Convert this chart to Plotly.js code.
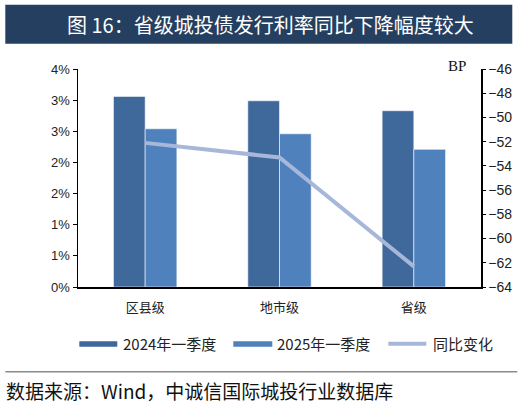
<!DOCTYPE html>
<html>
<head>
<meta charset="utf-8">
<script src="https://cdn.plot.ly/plotly-3.0.1.min.js"></script>
<style>
  html, body { margin: 0; padding: 0; background: #fff; }
  #chart { width: 529px; height: 407px; }
</style>
</head>
<body>
<div id="chart"></div>
<script>
// data
const categories = ['区县级', '地市级', '省级'];
const rate2024 = [3.06, 2.99, 2.83];   // %
const rate2025 = [2.54, 2.46, 2.21];   // %
const yoyChange = [-52.1, -53.3, -62.3]; // BP
const leftTickVals = [0, 0.5, 1, 1.5, 2, 2.5, 3, 3.5];
const leftTickText = ['0%', '1%', '1%', '2%', '2%', '3%', '3%', '4%'];
const seriesNames = ['2024年一季度', '2025年一季度', '同比变化'];

const darkBlue = '#40699B';
const midBlue = '#4F81BD';
const lineBlue = '#A7B7DA';
const cjk = '"Noto Sans CJK SC", "Noto Sans", sans-serif';

const M = { l: 77.7, r: 48.3, t: 69.3, b: 119.7 };
const W = 529, H = 407;
const plotW = W - M.l - M.r, plotH = H - M.t - M.b;
// pixel -> paper coords (paper spans the plot area)
const px = v => (v - M.l) / plotW;
const py = v => (H - M.b - v) / plotH;

const traces = [
  {
    type: 'bar', x: categories, y: rate2024, name: seriesNames[0],
    marker: { color: darkBlue, line: { color: 'rgba(255,255,255,0.7)', width: 0.8 } },
    hoverinfo: 'skip'
  },
  {
    type: 'bar', x: categories, y: rate2025, name: seriesNames[1],
    marker: { color: midBlue, line: { color: 'rgba(255,255,255,0.7)', width: 0.8 } },
    hoverinfo: 'skip'
  },
  {
    type: 'scatter', mode: 'lines', x: categories, y: yoyChange, yaxis: 'y2',
    name: seriesNames[2], line: { color: lineBlue, width: 4 },
    hoverinfo: 'skip'
  }
];

// hand-drawn legend (wide swatches like the original)
const legendY = 344;

const shapes = [
  // title band
  { type: 'rect', xref: 'paper', yref: 'paper', x0: px(5), x1: px(512), y0: py(44), y1: py(5),
    fillcolor: '#243F60', line: { width: 0 }, layer: 'below' },
  // footer rule
  { type: 'line', xref: 'paper', yref: 'paper', x0: px(5), x1: px(517), y0: py(372), y1: py(372),
    line: { color: '#8c8c8c', width: 1.5 } },
  // legend swatches
  { type: 'rect', xref: 'paper', yref: 'paper', x0: px(79), x1: px(117), y0: py(347), y1: py(341.5),
    fillcolor: darkBlue, line: { width: 0 } },
  { type: 'rect', xref: 'paper', yref: 'paper', x0: px(233), x1: px(272), y0: py(347), y1: py(341.5),
    fillcolor: midBlue, line: { width: 0 } },
  { type: 'line', xref: 'paper', yref: 'paper', x0: px(388), x1: px(426), y0: py(legendY), y1: py(legendY),
    line: { color: lineBlue, width: 4 } }
];

const annotations = [
  { text: '图 16：省级城投债发行利率同比下降幅度较大', xref: 'paper', yref: 'paper',
    x: px(270), y: py(24.5), xanchor: 'center', yanchor: 'middle', showarrow: false,
    font: { family: cjk, size: 20, color: '#ffffff' } },
  { text: 'BP', xref: 'paper', yref: 'paper', x: px(457), y: py(66), xanchor: 'center', yanchor: 'middle',
    showarrow: false, font: { family: '"Liberation Serif", "DejaVu Serif", serif', size: 15, color: '#111' } },
  { text: seriesNames[0], xref: 'paper', yref: 'paper', x: px(121), y: py(legendY), xanchor: 'left',
    yanchor: 'middle', showarrow: false, font: { family: cjk, size: 15, color: '#222' } },
  { text: seriesNames[1], xref: 'paper', yref: 'paper', x: px(275), y: py(legendY), xanchor: 'left',
    yanchor: 'middle', showarrow: false, font: { family: cjk, size: 15, color: '#222' } },
  { text: seriesNames[2], xref: 'paper', yref: 'paper', x: px(431), y: py(legendY), xanchor: 'left',
    yanchor: 'middle', showarrow: false, font: { family: cjk, size: 15, color: '#222' } },
  { text: '数据来源：Wind，中诚信国际城投行业数据库', xref: 'paper', yref: 'paper', x: px(4), y: py(391),
    xanchor: 'left', yanchor: 'middle', showarrow: false, font: { family: cjk, size: 19, color: '#111' } }
];

const layout = {
  width: W, height: H,
  margin: { l: M.l, r: M.r, t: M.t, b: M.b, pad: 0 },
  paper_bgcolor: '#ffffff', plot_bgcolor: '#ffffff',
  showlegend: false,
  barmode: 'group', bargap: 0.528, bargroupgap: 0,
  xaxis: {
    type: 'category', showline: true, linecolor: '#000', linewidth: 1.5,
    ticks: '', showgrid: false, zeroline: false, ticklabelstandoff: 8,
    tickfont: { family: cjk, size: 13, color: '#222' }
  },
  yaxis: {
    range: [0, 3.5], tickvals: leftTickVals, ticktext: leftTickText,
    showline: true, linecolor: '#000', linewidth: 1.5,
    ticks: 'outside', ticklen: 4, tickcolor: '#000', tickwidth: 1,
    showgrid: false, zeroline: false,
    tickfont: { family: '"Liberation Sans", Arial, sans-serif', size: 13, color: '#222' }
  },
  yaxis2: {
    overlaying: 'y', side: 'right', range: [-64, -46], dtick: 2,
    showline: true, linecolor: '#000', linewidth: 1.5,
    ticks: 'outside', ticklen: 3, tickcolor: '#000', tickwidth: 1,
    showgrid: false, zeroline: false,
    tickfont: { family: '"Liberation Sans", Arial, sans-serif', size: 14, color: '#222' }
  },
  shapes: shapes,
  annotations: annotations
};

Plotly.newPlot('chart', traces, layout, { displayModeBar: false, staticPlot: true });
</script>
</body>
</html>
